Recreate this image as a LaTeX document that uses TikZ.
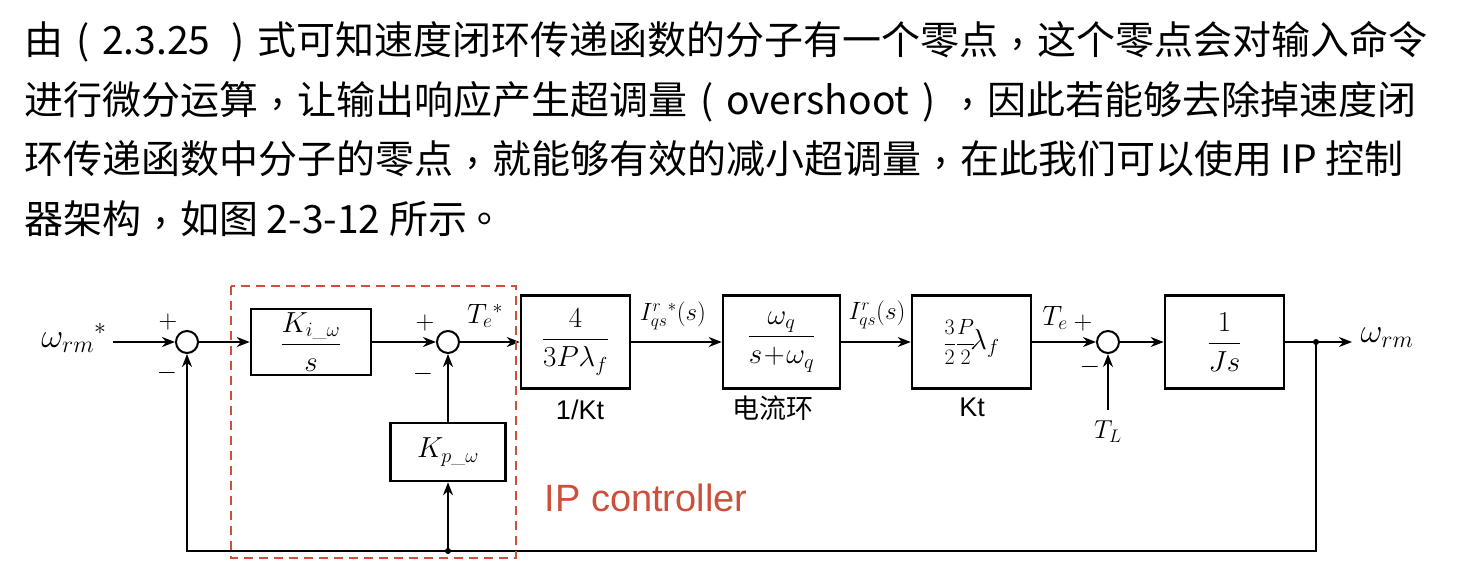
\RequirePackage{fix-cm}
\documentclass[tikz,border=0pt]{standalone}
\usepackage{amsmath}
\usepackage{fontspec}
\usetikzlibrary{arrows.meta,positioning}

\newfontfamily\scfont{Noto Sans CJK SC}
\newfontfamily\arialfont{Liberation Sans}
\definecolor{ipred}{RGB}{205,80,60}

% 句読点（中央寄せ）
\newcommand\dou{\makebox[1em][c]{\raisebox{0.3em}{,}}}
\newcommand\juhao{\makebox[1em][c]{\raisebox{0.3em}{｡}}}
\newcommand\lkuo{\makebox[1em][c]{(}}
\newcommand\rkuo{\makebox[1em][c]{)}}

\begin{document}
\begin{tikzpicture}[x=1pt,y=-1pt,
    para/.style={anchor=base west,inner sep=0pt,font=\scfont\fontsize{39}{46}\selectfont},
    blk/.style={draw,line width=2.6pt,inner sep=0pt,font=\fontsize{29}{34}\selectfont},
    sumpt/.style={draw,circle,line width=2pt,minimum size=22pt,inner sep=0pt},
    sig/.style={line width=2pt,-{Stealth[length=13pt,width=10pt]}},
    lbl/.style={inner sep=0pt,font=\fontsize{28}{32}\selectfont},
    sgn/.style={inner sep=0pt,font=\fontsize{26}{30}\selectfont},
    captxt/.style={inner sep=0pt,font=\arialfont\fontsize{27}{32}\selectfont}]

    \useasboundingbox (0,0) rectangle (1471,577);

    % パラメータの定義
    \pgfmathsetmacro{\Y}{342}
    \pgfmathsetmacro{\Yb}{551}
    \pgfmathsetmacro{\H}{93}

    % 本文
    \node[para] (l1) at (24,55) {由\lkuo 2.3.25\hspace{8pt}\rkuo 式可知速度闭环传递函数的分子有一个零点\dou 这个零点会对输入命令};
    \node[para] (l2) at (24,115) {进行微分运算\dou 让输出响应产生超调量\lkuo overshoot\rkuo\dou 因此若能够去除掉速度闭};
    \node[para] (l3) at (24,174) {环传递函数中分子的零点\dou 就能够有效的减小超调量\dou 在此我们可以使用 IP 控制};
    \node[para] (l4) at (24,234) {器架构\dou 如图 2-3-12 所示\juhao};

    % 加算点
    \node[sumpt] (s1) at (187,\Y) {};
    \node[sumpt] (s2) at (448,\Y) {};
    \node[sumpt] (s3) at (1108,\Y) {};

    % ブロック
    \node[blk,minimum width=120pt,minimum height=66pt] (ki) at (311,\Y) {$\dfrac{K_{i\_\omega}}{s}$};
    \node[blk,minimum width=115pt,minimum height=58pt] (kp) at (448,452) {$K_{p\_\omega}$};
    \node[blk,minimum width=109pt,minimum height=\H pt] (g1) at (575.5,\Y) {$\dfrac{4}{3P\lambda_f}$};
    \node[blk,minimum width=117pt,minimum height=\H pt] (g2) at (781.5,\Y) {$\dfrac{\omega_q}{s\!+\!\omega_q}$};
    \node[blk,minimum width=119pt,minimum height=\H pt] (g3) at (971.5,\Y) {{\fontsize{22}{26}\selectfont$\dfrac{3}{2}\dfrac{P}{2}$}$\!\lambda_f$};
    \node[blk,minimum width=119pt,minimum height=\H pt] (g4) at (1224.5,\Y) {$\dfrac{1}{Js}$};

    % 端点
    \coordinate (in) at (113,\Y);
    \coordinate (br) at (1316,\Y);
    \coordinate (out) at (1352,\Y);
    \coordinate (fb) at (448,\Yb);
    \coordinate (tl) at (1108,410);

    % ラベル
    \node[lbl,font=\fontsize{34}{38}\selectfont] (win) at (74,338) {$\omega_{rm}{}^{*}$};
    \node[lbl,font=\fontsize{34}{38}\selectfont] (wout) at (1387,338) {$\omega_{rm}$};
    \node[sgn] (p1) at (168,322) {$+$};
    \node[sgn] (m1) at (167,373) {$-$};
    \node[sgn] (p2) at (425,323) {$+$};
    \node[sgn] (m2) at (423,374) {$-$};
    \node[sgn] (p3) at (1083,323) {$+$};
    \node[sgn] (m3) at (1090,367) {$-$};
    \node[lbl] (tes) at (485,316) {$T_e{}^{*}$};
    \node[lbl,font=\fontsize{25}{30}\selectfont] (iqs) at (673,316) {$I_{qs}^{r}{}^{*}(s)$};
    \node[lbl,font=\fontsize{25}{30}\selectfont] (iq) at (877,315) {$I_{qs}^{r}(s)$};
    \node[lbl] (te) at (1055,318) {$T_e$};
    \node[lbl,font=\fontsize{26}{30}\selectfont] (tll) at (1108,432) {$T_L$};
    \node[captxt] (c1) at (580,410) {1/Kt};
    \node[captxt,font=\scfont\fontsize{27}{32}\selectfont] (c2) at (773,408) {电流环};
    \node[captxt] (c3) at (972,407) {Kt};

    % 線・点の描画
    \draw[sig] (in) -- (s1);
    \draw[sig] (s1) -- (ki);
    \draw[sig] (ki) -- (s2);
    \draw[sig] (s2) -- (g1);
    \draw[sig] (g1) -- (g2);
    \draw[sig] (g2) -- (g3);
    \draw[sig] (g3) -- (s3);
    \draw[sig] (s3) -- (g4);
    \draw[sig] (g4) -- (out);
    \draw[sig] (br) |- (fb) -| (s1);
    \draw[sig] (fb) -- (kp);
    \draw[sig] (kp) -- (s2);
    \draw[sig] (tl) -- (s3);
    \fill (br) circle (3pt);
    \fill (fb) circle (3pt);

    % IP controller の枠
    \draw[ipred,line width=2pt,dash pattern=on 9pt off 6pt] (231,286) rectangle (516,558);
    \node[inner sep=0pt,text=ipred,font=\arialfont\fontsize{38}{44}\selectfont] (ipc) at (646,498) {IP controller};

\end{tikzpicture}
\end{document}
